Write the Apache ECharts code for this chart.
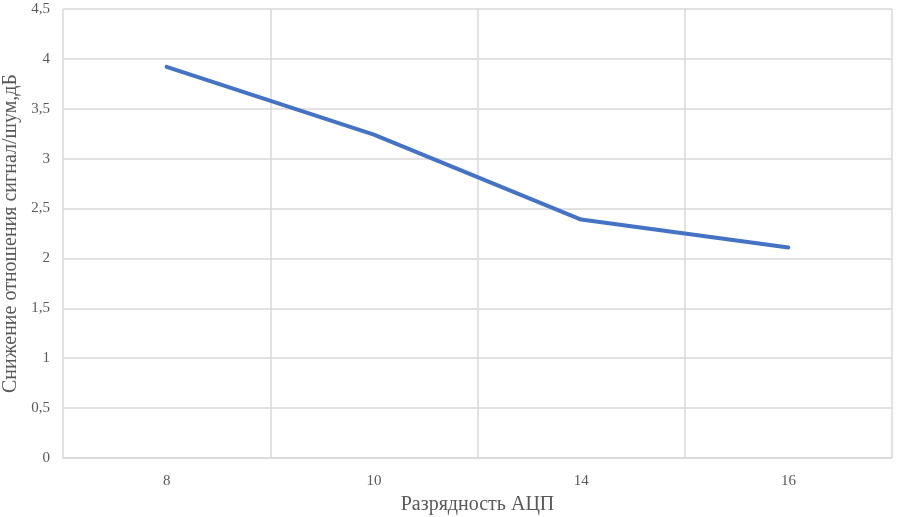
<!DOCTYPE html>
<html>
<head>
<meta charset="utf-8">
<script src="https://cdn.jsdelivr.net/npm/echarts@6/dist/echarts.min.js"></script>
<style>
  html, body { margin: 0; padding: 0; background: #fff; }
  #myChart { width: 898px; height: 517px; }
</style>
</head>
<body>
<div id="myChart"></div>
<script>
// разрядность АЦП
const categories = ['8', '10', '14', '16'];
// снижение отношения сигнал/шум, дБ
const snrLoss = [3.92, 3.24, 2.39, 2.11];

const font = '"Liberation Serif", "Times New Roman", serif';

let myChart = echarts.init(document.getElementById('myChart'));
let option = {
  animation: false,
  grid: { left: 63, right: 6, top: 9, bottom: 59, outerBoundsMode: 'none', containLabel: false },
  xAxis: {
    type: 'category',
    data: categories,
    boundaryGap: true,
    name: 'Разрядность АЦП',
    nameLocation: 'middle',
    nameGap: 37,
    nameTextStyle: { fontFamily: font, fontSize: 20, color: '#595959' },
    axisTick: { show: false },
    axisLine: { lineStyle: { color: '#d9d9d9', width: 1.5 } },
    axisLabel: { fontFamily: font, fontSize: 15, color: '#595959', margin: 16 },
    splitLine: { show: true, lineStyle: { color: '#d9d9d9', width: 1.5 } }
  },
  yAxis: {
    type: 'value',
    min: 0,
    max: 4.5,
    interval: 0.5,
    name: 'Снижение отношения сигнал/шум,дБ',
    nameLocation: 'middle',
    nameGap: 42,
    nameTextStyle: { fontFamily: font, fontSize: 20, color: '#595959' },
    axisLine: { show: false },
    axisTick: { show: false },
    axisLabel: {
      fontFamily: font, fontSize: 15, color: '#595959', margin: 13,
      formatter: v => String(v).replace('.', ',')
    },
    splitLine: { lineStyle: { color: '#d9d9d9', width: 1.5 } }
  },
  series: [{
    type: 'line',
    data: snrLoss,
    symbol: 'none',
    lineStyle: { color: '#4472C4', width: 4, cap: 'round' }
  }]
};
myChart.setOption(option);
</script>
</body>
</html>
